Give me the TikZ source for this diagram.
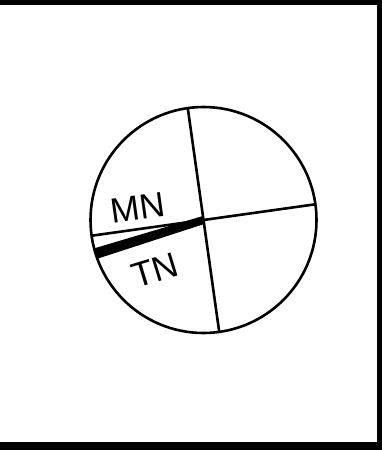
\documentclass[tikz,border=0pt]{standalone}
\usepackage{fontspec}
\setmainfont{Liberation Sans}
\begin{document}
\begin{tikzpicture}[x=1pt,y=1pt]
      \tikzstyle{rim} = [draw, line width=2.6pt]
      \tikzstyle{dirtag} = [inner sep=0pt, font=\fontsize{35}{35}\selectfont]

      \useasboundingbox (0,0) rectangle (382,-450);
      % frame
      \fill (0,0) rectangle (382,-5);
      \fill (377,0) rectangle (382,-450);
      \fill (0,-442) rectangle (382,-450);

      \coordinate (ctr) at (203.5,-220);
      \begin{scope}[shift={(ctr)}, rotate=8]
        \coordinate (n) at (0,113);
        \coordinate (s) at (0,-113);
        \coordinate (w) at (-113,0);
        \coordinate (e) at (113,0);
      \end{scope}

      % true north wedge
      \begin{scope}
        \clip (ctr) circle (112);
        \fill[shift={(ctr)}, rotate=197.3] (0,4) -- (120,5.5) -- (120,-5.5) -- (0,-4) -- cycle;
      \end{scope}

      \draw[rim] (ctr) circle (113);
      \draw[rim] (n) -- (s);
      \draw[rim] (w) -- (e);

      \node[dirtag, rotate=8]  (mn) at (138,-208) {MN};
      \node[dirtag, rotate=17] (tn) at (155,-270) {TN};
    \end{tikzpicture}
\end{document}
